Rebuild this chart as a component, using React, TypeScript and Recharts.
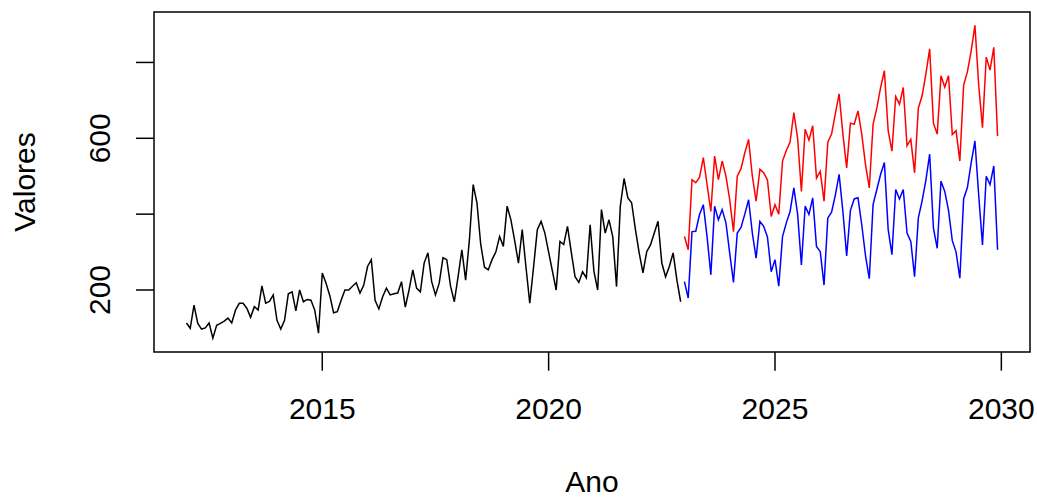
import React from 'react';
import { LineChart, Line, XAxis, YAxis, ReferenceArea } from 'recharts';

// Observed monthly series, Jan 2012 .. Dec 2022
const observedStart = 2012;
const observed = [
  113, 99, 160, 112, 97, 100, 113, 73, 107, 112, 118, 126,
  113, 147, 165, 165, 152, 128, 156, 147, 211, 165, 170, 187,
  120, 97, 120, 190, 195, 145, 200, 169, 175, 173, 147, 86,
  245, 218, 185, 140, 143, 173, 200, 200, 210, 219, 192, 213,
  262, 280, 173, 150, 182, 205, 187, 190, 192, 222, 155, 200,
  253, 205, 195, 271, 298, 222, 187, 218, 285, 280, 210, 169,
  235, 306, 226, 332, 478, 430, 320, 260, 253, 280, 300, 341,
  315, 421, 385, 330, 271, 359, 260, 165, 260, 359, 381, 350,
  300, 250, 200, 328, 320, 368, 300, 235, 220, 248, 232, 372,
  250, 200, 412, 350, 385, 340, 209, 421, 494, 443, 430, 360,
  298, 245, 301, 319, 350, 381, 271, 235, 262, 298, 226, 169,
];

// Forecast bounds, Jan 2023 .. Dec 2029
const forecastStart = 2023;
const upper = [
  341, 306, 491, 483, 497, 549, 478, 407, 553, 491, 540, 500,
  438, 354, 500, 520, 562, 597, 500, 434, 518, 509, 490, 394,
  425, 400, 540, 568, 590, 668, 600, 460, 624, 595, 633, 495,
  513, 434, 590, 611, 665, 717, 611, 522, 640, 637, 672, 611,
  530, 469, 637, 680, 734, 778, 620, 566, 710, 690, 734, 580,
  597, 509, 680, 712, 770, 836, 640, 611, 765, 735, 765, 610,
  620, 540, 740, 775, 830, 898, 740, 628, 814, 780, 840, 606,
];
const lower = [
  222, 179, 354, 355, 399, 425, 340, 240, 421, 385, 412, 377,
  297, 220, 350, 365, 400, 438, 350, 284, 381, 368, 340, 248,
  280, 210, 341, 377, 407, 469, 400, 266, 421, 399, 443, 315,
  301, 213, 390, 405, 450, 505, 407, 290, 410, 440, 443, 372,
  290, 230, 425, 465, 505, 536, 360, 293, 465, 440, 465, 350,
  328, 235, 390, 435, 490, 558, 363, 310, 487, 460, 410, 330,
  300, 231, 440, 470, 535, 593, 450, 319, 500, 478, 527, 306,
];

const xTicks = [2015, 2020, 2025, 2030];
const yTicks = [200, 400, 600, 800];
const yTickLabels = [200, 600];
const xTitle = 'Ano';
const yTitle = 'Valores';

const xDomain: [number, number] = [2011.283, 2030.633];
const yDomain: [number, number] = [36.5, 933];

const rows = [
  ...observed.map((v, i) => ({ t: observedStart + i / 12, observed: v })),
  ...upper.map((v, i) => ({ t: forecastStart + i / 12, upper: v, lower: lower[i] })),
];

const FONT = '"Liberation Sans", Arial, Helvetica, sans-serif';

const XTick = (props: any) => {
  const { x, y, payload } = props;
  return (
    <g>
      <line x1={x} x2={x} y1={y} y2={y + 18.7} stroke="#000" strokeWidth={1.5} />
      <text x={x} y={y + 56} textAnchor="middle" dominantBaseline="central" fontSize={30} fontFamily={FONT} fill="#000">
        {payload.value}
      </text>
    </g>
  );
};

const YTick = (props: any) => {
  const { x, y, payload } = props;
  const lx = x - 54.5;
  return (
    <g>
      <line x1={x - 18} x2={x} y1={y} y2={y} stroke="#000" strokeWidth={1.5} />
      {yTickLabels.includes(payload.value) && (
        <text
          x={lx}
          y={y}
          transform={`rotate(-90 ${lx} ${y})`}
          textAnchor="middle"
          dominantBaseline="central"
          fontSize={30}
          fontFamily={FONT}
          fill="#000"
        >
          {payload.value}
        </text>
      )}
    </g>
  );
};

export default function App() {
  const W = 1037;
  const H = 497;
  return (
    <div style={{ position: 'absolute', left: 0, top: 0, width: W, height: H, background: '#fff' }}>
      <LineChart width={W} height={H} data={rows} margin={{ top: 12, right: 7, left: 0, bottom: 0 }}>
        <XAxis
          dataKey="t"
          type="number"
          domain={xDomain}
          allowDataOverflow
          ticks={xTicks}
          height={145}
          axisLine={false}
          tickLine={false}
          tickSize={0}
          tickMargin={0}
          tick={<XTick />}
          interval={0}
        />
        <YAxis
          type="number"
          domain={yDomain}
          allowDataOverflow
          ticks={yTicks}
          width={154}
          axisLine={false}
          tickLine={false}
          tickSize={0}
          tickMargin={0}
          tick={<YTick />}
          interval={0}
        />
        <ReferenceArea
          x1={xDomain[0]}
          x2={xDomain[1]}
          y1={yDomain[0]}
          y2={yDomain[1]}
          fill="none"
          fillOpacity={0}
          stroke="#000"
          strokeWidth={1.5}
          ifOverflow="visible"
        />
        <Line dataKey="observed" stroke="#000000" strokeWidth={1.5} dot={false} isAnimationActive={false} type="linear" />
        <Line dataKey="upper" stroke="#FF0000" strokeWidth={1.5} dot={false} isAnimationActive={false} type="linear" />
        <Line dataKey="lower" stroke="#0000FF" strokeWidth={1.5} dot={false} isAnimationActive={false} type="linear" />
      </LineChart>
      <svg width={W} height={H} style={{ position: 'absolute', left: 0, top: 0, pointerEvents: 'none' }}>
        <text x={592} y={481} textAnchor="middle" dominantBaseline="central" fontSize={30} fontFamily={FONT} fill="#000">
          {xTitle}
        </text>
        <text
          x={24.5}
          y={182}
          transform="rotate(-90 24.5 182)"
          textAnchor="middle"
          dominantBaseline="central"
          fontSize={30}
          fontFamily={FONT}
          fill="#000"
        >
          {yTitle}
        </text>
      </svg>
    </div>
  );
}
